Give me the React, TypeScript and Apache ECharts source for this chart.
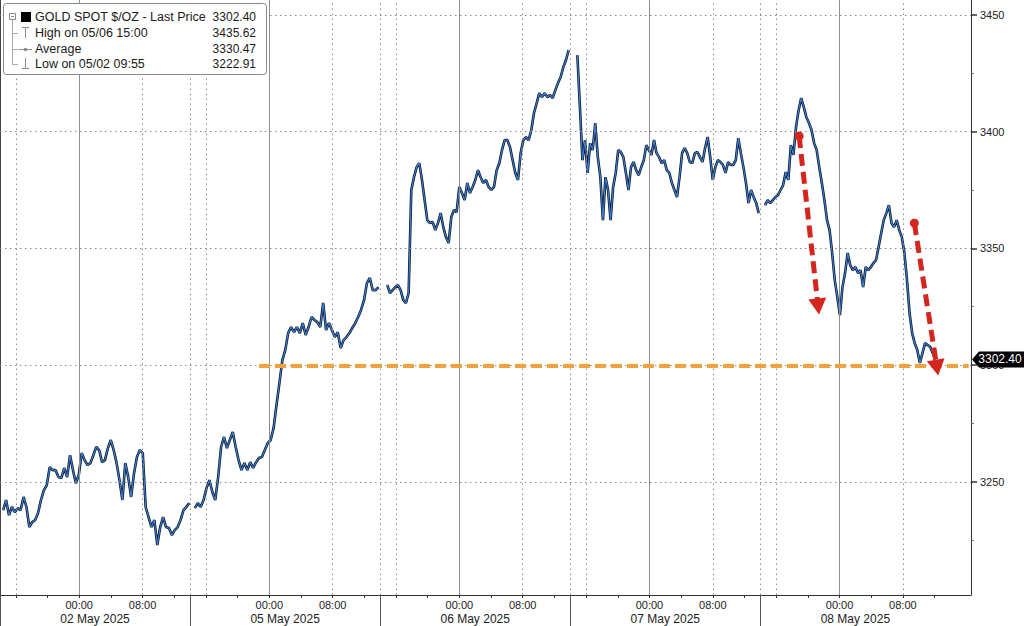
import React, { useEffect, useRef } from "react";
import * as echarts from "echarts";

// ---------------- data ----------------
const dayLabels = ["02 May 2025", "05 May 2025", "06 May 2025", "07 May 2025", "08 May 2025"];
const hourLabels = ["00:00", "08:00"];
const hourLabelOffsets = [10, 18]; // hours into each 24h panel (panel starts 14:00)
const tickOffsets = [2, 6, 10, 14, 18, 22];
const yMajorTicks = [3250, 3300, 3350, 3400, 3450];
const yMinorTicks = [3225, 3275, 3325, 3375, 3425];
const yMin = 3201.5;
const yMax = 3456.4;
const xMax = 122.6;

// session start / end (hours from left edge; each day panel = 24h)
const sessionStart = [0.4, 24.6, 48.9, 72.9, 96.6];
const sessionEnd = [23.9, 47.8, 71.8, 95.8, 118.1];

const may02 = [3237.9, 3242.2, 3235.7, 3239.2, 3237.0, 3238.7, 3237.9, 3243.5, 3239.2, 3230.6, 3232.7, 3233.6, 3236.6, 3242.2, 3246.4, 3248.6, 3256.3, 3255.0, 3255.0, 3252.0, 3251.6, 3255.9, 3252.0, 3261.4, 3255.0, 3249.4, 3252.9, 3262.3, 3259.3, 3257.2, 3258.0, 3261.4, 3264.9, 3263.6, 3258.4, 3259.3, 3264.4, 3267.9, 3263.6, 3258.0, 3250.7, 3242.2, 3258.0, 3252.0, 3243.5, 3253.7, 3260.6, 3263.6, 3262.3, 3239.2, 3234.9, 3230.6, 3233.6, 3222.9, 3230.6, 3234.9, 3230.6, 3230.2, 3227.2, 3229.3, 3230.6, 3233.6, 3237.9, 3239.2, 3240.9];
const may05 = [3238.7, 3240.9, 3239.2, 3242.2, 3247.3, 3250.7, 3245.6, 3242.2, 3252.0, 3264.9, 3269.2, 3264.4, 3267.9, 3271.3, 3264.9, 3259.3, 3255.0, 3258.0, 3255.0, 3258.4, 3255.9, 3258.4, 3260.2, 3260.6, 3263.6, 3266.6, 3267.9, 3273.0, 3282.9, 3292.3, 3302.1, 3306.4, 3313.7, 3316.3, 3314.1, 3316.3, 3313.7, 3318.0, 3312.9, 3316.3, 3320.6, 3319.3, 3318.4, 3316.3, 3326.6, 3315.0, 3318.0, 3315.0, 3312.0, 3314.1, 3307.3, 3310.7, 3312.0, 3313.7, 3315.9, 3318.0, 3320.6, 3323.6, 3327.8, 3335.1, 3337.3, 3332.1, 3332.1, 3333.4];
const may06 = [3334.3, 3330.8, 3332.1, 3333.4, 3334.3, 3332.1, 3327.8, 3326.6, 3330.8, 3375.0, 3380.5, 3384.8, 3386.5, 3379.3, 3370.7, 3362.1, 3360.8, 3361.3, 3357.8, 3360.8, 3365.1, 3359.1, 3354.8, 3352.3, 3363.4, 3366.4, 3365.5, 3376.3, 3373.7, 3370.7, 3378.0, 3373.7, 3376.3, 3379.3, 3383.5, 3380.5, 3378.0, 3379.3, 3376.3, 3375.0, 3376.3, 3383.5, 3386.5, 3392.1, 3396.4, 3396.4, 3393.4, 3387.8, 3382.3, 3379.3, 3390.8, 3396.4, 3397.7, 3396.4, 3400.7, 3408.0, 3412.2, 3416.5, 3414.8, 3416.5, 3414.8, 3415.7, 3414.4, 3417.8, 3420.8, 3423.4, 3427.7, 3430.7, 3434.9];
const may07 = [3432.8, 3410.5, 3387.8, 3396.4, 3382.3, 3395.1, 3392.1, 3403.7, 3389.1, 3380.5, 3362.1, 3380.5, 3375.0, 3362.1, 3376.3, 3382.3, 3392.1, 3391.3, 3389.1, 3382.3, 3375.0, 3384.8, 3387.0, 3383.5, 3381.4, 3384.8, 3387.8, 3394.2, 3392.1, 3390.0, 3396.4, 3390.8, 3389.1, 3386.5, 3387.8, 3383.5, 3382.3, 3378.0, 3375.0, 3372.0, 3380.5, 3390.8, 3393.0, 3390.8, 3387.0, 3386.5, 3390.8, 3391.3, 3389.1, 3387.0, 3393.0, 3397.7, 3389.1, 3379.3, 3384.8, 3387.8, 3387.0, 3385.7, 3382.3, 3387.0, 3385.7, 3385.7, 3387.8, 3397.2, 3390.8, 3384.8, 3378.0, 3369.4, 3375.0, 3372.0, 3369.4, 3365.1];
const may08 = [3368.5, 3370.7, 3369.4, 3370.7, 3372.0, 3372.8, 3375.0, 3377.1, 3382.7, 3379.3, 3394.2, 3390.0, 3402.0, 3409.2, 3414.4, 3410.5, 3406.2, 3403.7, 3400.7, 3395.1, 3392.1, 3384.8, 3378.0, 3370.7, 3362.1, 3357.8, 3348.0, 3336.4, 3329.1, 3321.4, 3333.4, 3339.4, 3348.0, 3342.8, 3340.7, 3342.0, 3339.4, 3340.7, 3333.4, 3342.0, 3340.7, 3342.0, 3343.7, 3345.0, 3350.6, 3356.5, 3362.1, 3365.1, 3368.5, 3360.8, 3359.1, 3362.1, 3357.8, 3354.8, 3348.0, 3336.4, 3322.3, 3313.7, 3309.4, 3306.4, 3300.9, 3305.1, 3309.4, 3308.6, 3307.7, 3305.1, 3302.4];
const sessions = [may02, may05, may06, may07, may08];

const legendNames = ["GOLD SPOT $/OZ - Last Price", "High on 05/06 15:00", "Average", "Low on 05/02 09:55"];
const legendValues = ["3302.40", "3435.62", "3330.47", "3222.91"];

// annotations (data space: hours, price)
const orangeLevel = 3299.6;
const orangeFrom = 32.7;
const orangeTo = 122.3;
const arrowFrom = [[100.9, 3398.1], [115.45, 3360.8]];
const arrowTo = [[103.3, 3325.1], [118.3, 3298.9]];

const FONT = "'Liberation Sans', Arial, sans-serif";

export default function App() {
  const ref = useRef<HTMLDivElement>(null);

  useEffect(() => {
    const chart = echarts.init(ref.current!, null, { renderer: "svg" });

    const priceData: any[] = [];
    sessions.forEach((arr, d) => {
      const s = sessionStart[d];
      const e = sessionEnd[d];
      const step = (e - s) / (arr.length - 1);
      arr.forEach((p, i) => priceData.push([s + i * step, p]));
      priceData.push([e + 0.2, null]);
    });

    const nDays = dayLabels.length;
    const tickHours: number[] = [];
    const labelHours: number[] = [];
    const dayStarts: number[] = [];
    const dayMids: number[] = [];
    for (let d = 0; d < nDays; d++) {
      tickOffsets.forEach((o) => tickHours.push(d * 24 + o));
      hourLabelOffsets.forEach((o) => labelHours.push(d * 24 + o));
      dayStarts.push(d * 24);
      dayMids.push(d * 24 + 12);
    }

    const dotted = { color: "#8a8a8a", width: 1, type: [1.5, 3.5] };
    const solid = { color: "#8f8f8f", width: 1, type: "solid" };
    const gridLines: any[] = [];
    for (let d = 0; d < nDays; d++) {
      if (d > 0) gridLines.push({ xAxis: d * 24, lineStyle: dotted });
      gridLines.push({ xAxis: d * 24 + 2, lineStyle: dotted });
      gridLines.push({ xAxis: d * 24 + 10, lineStyle: solid });
      gridLines.push({ xAxis: d * 24 + 18, lineStyle: dotted });
    }
    yMajorTicks.forEach((v) => gridLines.push({ yAxis: v, lineStyle: dotted }));

    const axisCommon = { min: 0, max: xMax, type: "value" as const };
    const yCommon = { min: yMin, max: yMax, type: "value" as const };

    const option: any = {
      animation: false,
      backgroundColor: "#fff",
      textStyle: { fontFamily: FONT },
      grid: { left: 0, right: 53, top: 0, bottom: 31, containLabel: false },
      xAxis: [
        {
          ...axisCommon,
          position: "bottom",
          axisLine: { show: true, onZero: false, lineStyle: { color: "#333", width: 1 } },
          axisTick: { show: true, customValues: tickHours, length: 3, lineStyle: { color: "#333" } },
          axisLabel: {
            show: true,
            customValues: labelHours,
            formatter: (v: number) => hourLabels[hourLabelOffsets.indexOf(Math.round(v) % 24)],
            margin: 4,
            fontSize: 11,
            color: "#222",
            fontFamily: FONT,
          },
          splitLine: { show: false },
        },
        {
          ...axisCommon,
          position: "bottom",
          axisLine: { show: false, onZero: false },
          axisTick: { show: true, customValues: dayStarts, length: 31, lineStyle: { color: "#555" } },
          axisLabel: {
            show: true,
            customValues: dayMids,
            formatter: (v: number) => dayLabels[Math.floor(v / 24)],
            margin: 18,
            fontSize: 12,
            color: "#222",
            fontFamily: FONT,
          },
          splitLine: { show: false },
        },
      ],
      yAxis: [
        {
          ...yCommon,
          position: "right",
          axisLine: { show: true, onZero: false, lineStyle: { color: "#333" } },
          axisTick: { show: true, customValues: yMajorTicks, length: 6, lineStyle: { color: "#333", width: 1.5 } },
          axisLabel: {
            show: true,
            customValues: yMajorTicks,
            formatter: (v: number) => String(Math.round(v)),
            margin: 9,
            fontSize: 11,
            color: "#222",
            fontFamily: FONT,
          },
          splitLine: { show: false },
        },
        {
          ...yCommon,
          position: "right",
          axisLine: { show: false, onZero: false },
          axisTick: { show: true, customValues: yMinorTicks, length: 3, lineStyle: { color: "#777" } },
          axisLabel: { show: false },
          splitLine: { show: false },
        },
        {
          ...yCommon,
          position: "left",
          axisLine: { show: true, onZero: false, lineStyle: { color: "#444" } },
          axisTick: { show: false },
          axisLabel: { show: false },
          splitLine: { show: false },
        },
      ],
      series: [
        {
          name: "grid",
          type: "line",
          data: [],
          z: 1,
          silent: true,
          markLine: { silent: true, symbol: ["none", "none"], label: { show: false }, data: gridLines },
        },
        {
          name: "priceDark",
          type: "line",
          data: priceData,
          showSymbol: false,
          connectNulls: false,
          z: 3,
          lineStyle: { color: "#0d1726", width: 2.6 },
          silent: true,
        },
        {
          name: "priceBlue",
          type: "line",
          data: priceData,
          showSymbol: false,
          connectNulls: false,
          z: 4,
          lineStyle: { color: "#3d80d6", width: 1.1 },
          silent: true,
        },
        {
          name: "level",
          type: "line",
          data: [],
          z: 5,
          silent: true,
          markLine: {
            silent: true,
            symbol: ["none", "none"],
            label: { show: false },
            lineStyle: { color: "#f0a33c", width: 4, type: [11, 5] },
            data: [[{ coord: [orangeFrom, orangeLevel] }, { coord: [orangeTo, orangeLevel] }]],
          },
        },
        {
          name: "arrows",
          type: "line",
          data: [],
          z: 6,
          silent: true,
          markLine: {
            silent: true,
            label: { show: false },
            lineStyle: { color: "#d4261e", width: 5, type: [12, 6], opacity: 1 },
            data: arrowFrom.map((f, i) => [
              { coord: f, symbol: "circle", symbolSize: 9 },
              { coord: arrowTo[i], symbol: "triangle", symbolSize: [18, 16] },
            ]),
          },
        },
      ],
    };

    chart.setOption(option);

    const lastPrice = may08[may08.length - 1];
    const yc = chart.convertToPixel({ yAxisIndex: 0 }, lastPrice) as number;

    const gray = "#8a8a8a";
    const rowY = [17, 33, 49, 64];
    const graphic: any[] = [
      {
        type: "rect",
        shape: { x: 3.5, y: 3.5, width: 263, height: 71, r: 3 },
        style: { fill: "#fff", stroke: "#888", lineWidth: 1 },
        z: 100,
      },
      // collapse box
      { type: "rect", shape: { x: 9.5, y: 13.5, width: 6, height: 6 }, style: { fill: "#fff", stroke: gray, lineWidth: 1 }, z: 101 },
      { type: "line", shape: { x1: 11, y1: 16.5, x2: 14, y2: 16.5 }, style: { stroke: gray, lineWidth: 1 }, z: 101 },
      // tree
      { type: "line", shape: { x1: 12.5, y1: 20, x2: 12.5, y2: 64.5 }, style: { stroke: "#aaa", lineWidth: 1 }, z: 101 },
      ...rowY.slice(1).map((y) => ({
        type: "line",
        shape: { x1: 12.5, y1: y + 0.5, x2: 18, y2: y + 0.5 },
        style: { stroke: "#aaa", lineWidth: 1 },
        z: 101,
      })),
      // black square
      { type: "rect", shape: { x: 21, y: 12, width: 10, height: 10 }, style: { fill: "#000" }, z: 101 },
      // high icon
      { type: "line", shape: { x1: 22, y1: 27.5, x2: 29, y2: 27.5 }, style: { stroke: gray, lineWidth: 1 }, z: 101 },
      { type: "line", shape: { x1: 25.5, y1: 27.5, x2: 25.5, y2: 38 }, style: { stroke: gray, lineWidth: 1 }, z: 101 },
      // average icon
      { type: "line", shape: { x1: 19, y1: 49.5, x2: 32, y2: 49.5 }, style: { stroke: gray, lineWidth: 1 }, z: 101 },
      { type: "circle", shape: { cx: 25.5, cy: 49.5, r: 1.8 }, style: { fill: gray }, z: 101 },
      // low icon
      { type: "line", shape: { x1: 25.5, y1: 58, x2: 25.5, y2: 68.5 }, style: { stroke: gray, lineWidth: 1 }, z: 101 },
      { type: "line", shape: { x1: 22, y1: 68.5, x2: 29, y2: 68.5 }, style: { stroke: gray, lineWidth: 1 }, z: 101 },
      ...legendNames.map((t, i) => ({
        type: "text",
        x: 35,
        y: rowY[i],
        style: { text: t, fill: "#1a1a1a", font: `12.5px ${FONT}`, textVerticalAlign: "middle", textAlign: "left" },
        z: 102,
      })),
      ...legendValues.map((t, i) => ({
        type: "text",
        x: 256,
        y: rowY[i],
        style: { text: t, fill: "#1a1a1a", font: `12px ${FONT}`, textVerticalAlign: "middle", textAlign: "right" },
        z: 102,
      })),
      // last price tag
      {
        type: "polygon",
        shape: {
          points: [
            [972, yc],
            [979, yc - 8],
            [1024, yc - 8],
            [1024, yc + 8],
            [979, yc + 8],
          ],
        },
        style: { fill: "#000" },
        z: 110,
      },
      {
        type: "text",
        x: 1000,
        y: yc,
        style: { text: legendValues[0], fill: "#fff", font: `12px ${FONT}`, textVerticalAlign: "middle", textAlign: "center" },
        z: 111,
      },
    ];
    chart.setOption({ graphic });

    return () => chart.dispose();
  }, []);

  return (
    <div
      ref={ref}
      style={{ position: "fixed", left: 0, top: 0, width: 1024, height: 626, background: "#fff" }}
    />
  );
}
